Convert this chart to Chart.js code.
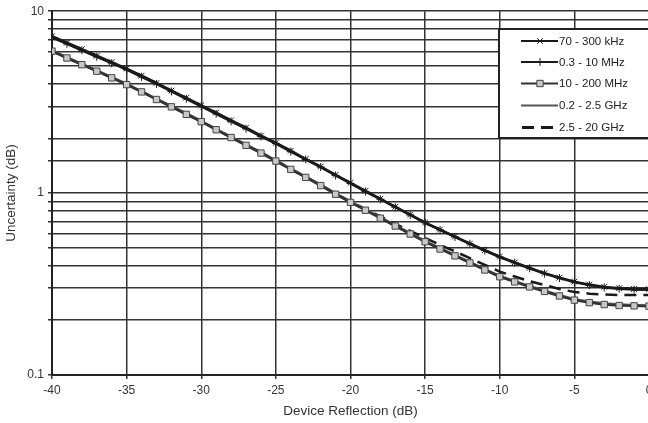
<!DOCTYPE html>
<html>
<head>
<meta charset="utf-8">
<script src="https://cdn.jsdelivr.net/npm/chart.js@4.4.1/dist/chart.umd.min.js"></script>
<style>
  html, body { margin: 0; padding: 0; background: #fff; overflow: hidden; }
  #wrap { width: 660px; height: 423px; }
</style>
</head>
<body>
<div id="wrap"><canvas id="uncChart" width="660" height="423"></canvas></div>
<script>
// device reflection (dB), one point per dB
const reflection = [];
for (let r = -40; r <= 0; r++) reflection.push(r);

const seriesLabels = ["70 - 300 kHz", "0.3 - 10 MHz", "10 - 200 MHz", "0.2 - 2.5 GHz", "2.5 - 20 GHz"];

const khz70 = [7.29, 6.71, 6.18, 5.69, 5.25, 4.84, 4.42, 4.03, 3.66, 3.34,
  3.04, 2.77, 2.51, 2.29, 2.07, 1.89, 1.71, 1.54, 1.40, 1.26,
  1.14, 1.03, 0.931, 0.841, 0.762, 0.689, 0.630, 0.577, 0.528, 0.485,
  0.447, 0.416, 0.388, 0.363, 0.343, 0.326, 0.314, 0.305, 0.300, 0.297, 0.296];

const mhz03 = [7.18, 6.62, 6.10, 5.61, 5.18, 4.77, 4.36, 3.98, 3.62, 3.30,
  3.00, 2.73, 2.48, 2.26, 2.05, 1.87, 1.69, 1.53, 1.39, 1.25,
  1.13, 1.02, 0.925, 0.836, 0.758, 0.686, 0.627, 0.574, 0.526, 0.483,
  0.445, 0.414, 0.386, 0.361, 0.341, 0.324, 0.312, 0.303, 0.298, 0.295, 0.294];

const mhz10 = [6.03, 5.53, 5.08, 4.68, 4.30, 3.95, 3.60, 3.27, 2.98, 2.71,
  2.47, 2.23, 2.02, 1.83, 1.66, 1.50, 1.35, 1.22, 1.10, 0.986,
  0.889, 0.805, 0.728, 0.659, 0.596, 0.540, 0.493, 0.452, 0.413, 0.378,
  0.347, 0.325, 0.305, 0.288, 0.272, 0.258, 0.250, 0.244, 0.241, 0.240, 0.239];

const ghz02 = [6.09, 5.58, 5.13, 4.72, 4.34, 3.99, 3.63, 3.30, 3.01, 2.74,
  2.49, 2.25, 2.04, 1.85, 1.68, 1.51, 1.36, 1.23, 1.11, 0.995,
  0.897, 0.812, 0.735, 0.665, 0.602, 0.545, 0.498, 0.456, 0.417, 0.382,
  0.350, 0.328, 0.308, 0.291, 0.275, 0.261, 0.253, 0.247, 0.244, 0.242, 0.241];

const ghz25 = [6.05, 5.55, 5.10, 4.70, 4.32, 3.97, 3.62, 3.29, 3.00, 2.73,
  2.48, 2.24, 2.03, 1.84, 1.67, 1.51, 1.36, 1.23, 1.11, 0.995,
  0.898, 0.816, 0.744, 0.678, 0.619, 0.566, 0.519, 0.478, 0.439, 0.403,
  0.370, 0.348, 0.328, 0.312, 0.297, 0.286, 0.280, 0.277, 0.275, 0.275, 0.275];

const yTickLabels = [0.1, 1, 10];

const FONT = "'Liberation Sans', Arial, sans-serif";

function toPoints(values) {
  return reflection.map((r, i) => ({ x: r, y: values[i] }));
}

// legend drawn inside the plot, top right
const boxLegend = {
  id: "boxLegend",
  afterDraw(chart) {
    const ctx = chart.ctx;
    const left = 499, top = 29, bottom = 138;
    ctx.save();
    ctx.fillStyle = "#fff";
    ctx.fillRect(left, top, 200, bottom - top);
    ctx.strokeStyle = "#222";
    ctx.lineWidth = 2;
    ctx.beginPath();
    ctx.moveTo(700, top); ctx.lineTo(left, top); ctx.lineTo(left, bottom); ctx.lineTo(700, bottom);
    ctx.stroke();

    const rows = [41, 62, 83.5, 105.5, 127.5];
    ctx.font = "11.5px " + FONT;
    ctx.textBaseline = "middle";
    chart.data.datasets.forEach((ds, i) => {
      const y = rows[i];
      ctx.save();
      ctx.strokeStyle = ds.borderColor;
      ctx.lineWidth = ds.borderDash ? 3 : 2;
      ctx.setLineDash(ds.borderDash || []);
      ctx.beginPath();
      ctx.moveTo(ds.borderDash ? 522 : 521, y);
      ctx.lineTo(558, y);
      ctx.stroke();
      ctx.restore();
      if (ds.pointRadius > 0) {
        ctx.save();
        ctx.strokeStyle = ds.pointBorderColor;
        ctx.fillStyle = ds.pointBackgroundColor;
        ctx.lineWidth = ds.pointBorderWidth;
        Chart.helpers.drawPoint(ctx, {
          pointStyle: ds.pointStyle, radius: ds.pointRadius,
          borderWidth: ds.pointBorderWidth, rotation: 0
        }, 540, y);
        ctx.restore();
      }
      ctx.fillStyle = "#222";
      ctx.fillText(ds.label, 559, y + 0.5);
    });
    ctx.restore();
  }
};

new Chart(document.getElementById("uncChart").getContext("2d"), {
  type: "line",
  data: {
    datasets: [
      {
        label: seriesLabels[0], data: toPoints(khz70),
        borderColor: "#1a1a1a", borderWidth: 2.5,
        pointStyle: "crossRot", pointRadius: 4, pointBorderWidth: 1,
        pointBorderColor: "#1a1a1a", pointBackgroundColor: "#1a1a1a"
      },
      {
        label: seriesLabels[1], data: toPoints(mhz03),
        borderColor: "#1a1a1a", borderWidth: 2.5,
        pointStyle: "cross", pointRadius: 4, pointBorderWidth: 1,
        pointBorderColor: "#1a1a1a", pointBackgroundColor: "#1a1a1a"
      },
      {
        label: seriesLabels[2], data: toPoints(mhz10),
        borderColor: "#333", borderWidth: 2.5,
        pointStyle: "rect", pointRadius: 4.5, pointBorderWidth: 1,
        pointBorderColor: "#444", pointBackgroundColor: "#c8c8c8"
      },
      {
        label: seriesLabels[3], data: toPoints(ghz02),
        borderColor: "#555", borderWidth: 2.5,
        pointRadius: 0, pointBorderWidth: 0,
        pointBorderColor: "#555", pointBackgroundColor: "#555"
      },
      {
        label: seriesLabels[4], data: toPoints(ghz25),
        borderColor: "#1a1a1a", borderWidth: 2.5, borderDash: [12, 7],
        pointRadius: 0, pointBorderWidth: 0,
        pointBorderColor: "#1a1a1a", pointBackgroundColor: "#1a1a1a"
      }
    ]
  },
  options: {
    responsive: false,
    animation: false,
    layout: { padding: { top: 11, right: 11, left: 0, bottom: 0 } },
    plugins: { legend: { display: false }, tooltip: { enabled: false } },
    elements: { line: { tension: 0 } },
    scales: {
      x: {
        type: "linear", min: -40, max: 0,
        afterFit(scale) { scale.height = 48; },
        grid: { color: "#333", lineWidth: 1.5, tickLength: 4 },
        border: { color: "#222", width: 2 },
        ticks: {
          stepSize: 5, padding: 4, color: "#333",
          font: { family: FONT, size: 12 }
        },
        title: {
          display: true, text: "Device Reflection (dB)", color: "#333",
          font: { family: FONT, size: 13.5 },
          padding: { top: 2, bottom: 4 }
        }
      },
      y: {
        type: "logarithmic", min: 0.1, max: 10,
        afterFit(scale) { scale.width = 52; },
        grid: { color: "#333", lineWidth: 1.5, tickLength: 4 },
        border: { color: "#222", width: 2 },
        ticks: {
          padding: 4, color: "#333", autoSkip: false,
          font: { family: FONT, size: 12 },
          callback: (v) => (yTickLabels.includes(Number(v.toPrecision(3))) ? String(Number(v.toPrecision(3))) : "")
        },
        title: {
          display: true, text: "Uncertainty (dB)", color: "#333",
          font: { family: FONT, size: 13.5 },
          padding: { top: 3, bottom: 2 }
        }
      }
    }
  },
  plugins: [boxLegend]
});
</script>
</body>
</html>
